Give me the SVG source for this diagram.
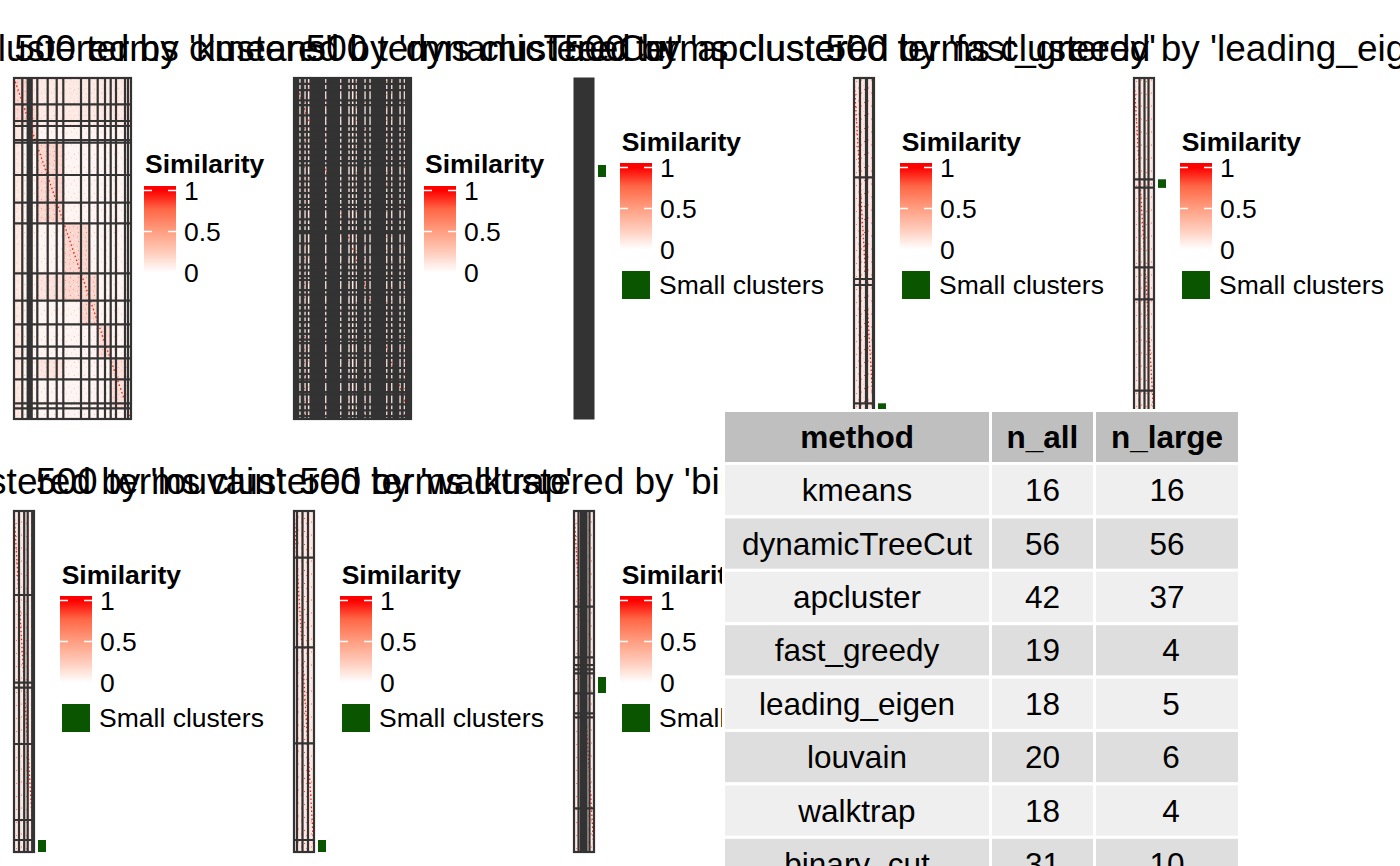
<svg xmlns="http://www.w3.org/2000/svg" width="1400" height="866" viewBox="0 0 1400 866">
<style>
.ttl{font-family:"Liberation Sans",Arial,sans-serif;font-size:37px;fill:#000;text-anchor:middle}
.lt{font-family:"Liberation Sans",Arial,sans-serif;font-size:26.5px;font-weight:bold;fill:#000}
.ll{font-family:"Liberation Sans",Arial,sans-serif;font-size:26.5px;fill:#000}
.grid{fill:none;stroke:#333;stroke-width:2.2}
.bd{fill:none;stroke:#333;stroke-width:2.2}
.diag{stroke:#F0200C;stroke-width:1.3;stroke-dasharray:1.5 2.5;fill:none}
.tick{stroke:#fff;stroke-width:1.6}
.sc{fill:#0A5600}
.tb{font-family:"Liberation Sans",Arial,sans-serif;font-size:31.5px;fill:#000;text-anchor:middle}
.tbh{font-weight:bold}
.hc{fill:#BFBFBF;stroke:#fff;stroke-width:3}
.c1{fill:#EFEFEF;stroke:#fff;stroke-width:3}
.c2{fill:#DEDEDE;stroke:#fff;stroke-width:3}
</style>
<defs>
<linearGradient id="grad" x1="0" y1="0" x2="0" y2="1">
<stop offset="0" stop-color="#FF0000"/>
<stop offset="0.05" stop-color="#FF0000"/>
<stop offset="0.255" stop-color="#FF6746"/>
<stop offset="0.5" stop-color="#FF9E81"/>
<stop offset="0.745" stop-color="#FFCFBF"/>
<stop offset="0.95" stop-color="#FFFFFF"/>
<stop offset="1" stop-color="#FFFFFF"/>
</linearGradient>
<pattern id="spk" width="10" height="13" patternUnits="userSpaceOnUse">
<rect width="10" height="13" fill="#FCE6E1"/>
<rect x="1" y="1" width="1" height="2" fill="#F4A99C"/>
<rect x="6" y="3" width="1" height="1" fill="#EE7C6A"/>
<rect x="3" y="7" width="1" height="1" fill="#F8C6BC"/>
<rect x="8" y="9" width="1" height="2" fill="#F5B1A5"/>
<rect x="4" y="11" width="1" height="1" fill="#EA4A35"/>
<rect x="0" y="5" width="1" height="1" fill="#FFFFFF"/>
<rect x="7" y="6" width="1" height="1" fill="#FFFFFF"/>
</pattern>
<pattern id="pk" width="8" height="9" patternUnits="userSpaceOnUse">
<rect width="8" height="9" fill="#FBD6CE"/>
<rect x="1" y="1" width="1" height="1" fill="#F4A193"/>
<rect x="5" y="2" width="1" height="2" fill="#F7BDB2"/>
<rect x="3" y="5" width="1" height="1" fill="#FFFFFF"/>
<rect x="6" y="7" width="1" height="1" fill="#F28D7D"/>
<rect x="0" y="7" width="1" height="1" fill="#FFF4F2"/>
</pattern>
</defs>

<g id="connectors"/>

<g id="panel-kmeans">
<text class="ttl" x="68.5" y="61">500 terms clustered by 'kmeans'</text>
<rect x="14" y="78" width="117" height="341" fill="#FFFBFA"/>
<rect x="14" y="78" width="117" height="341" fill="url(#spk)" opacity="0.35"/>
<g fill="url(#pk)">
<rect x="14" y="78" width="16.5" height="48"/>
<rect x="14" y="126" width="9" height="293" opacity="0.45"/>
<rect x="30.5" y="78" width="100.5" height="48" opacity="0.35"/>
<rect x="28.7" y="104" width="8" height="39"/>
<rect x="36.2" y="142.7" width="27.7" height="80.6"/>
<rect x="63.9" y="223.3" width="26.5" height="77.4"/>
<rect x="36.2" y="273.3" width="27.7" height="27.4" opacity="0.6"/>
<rect x="81" y="273.3" width="17.5" height="51"/>
<rect x="98.5" y="324.3" width="11.7" height="34" opacity="0.8"/>
<rect x="110.2" y="358.3" width="17.1" height="50" opacity="0.7"/>
<rect x="36.2" y="358.3" width="27.7" height="21" opacity="0.5"/>
</g>
<line class="diag" x1="14" y1="78" x2="131" y2="419"/>
<path class="grid" d="M22.3 78V419M27.7 78V419M29.7 78V419M31.7 78V419M37.3 78V419M47.7 78V419M56.7 78V419M63.3 78V419M81 78V419M89.3 78V419M97.7 78V419M105 78V419M110.7 78V419M116 78V419M125 78V419M128 78V419M14 104.3H131M14 121H131M14 126H131M14 140H131M14 142.7H131M14 175H131M14 202.7H131M14 223.3H131M14 273.3H131M14 300.7H131M14 324.3H131M14 346.7H131M14 358.3H131M14 379.3H131M14 403.3H131M14 408.3H131"/>
<rect class="bd" x="14" y="78" width="117" height="341"/>
<text class="lt" x="145" y="173">Similarity</text>
<rect x="144" y="186" width="32" height="91" fill="url(#grad)"/>
<path class="tick" d="M144 190.5h8M168 190.5h8M144 231.5h8M168 231.5h8M144 272.5h8M168 272.5h8"/>
<text class="ll" x="184" y="199.5">1</text>
<text class="ll" x="184" y="240.5">0.5</text>
<text class="ll" x="184" y="281.5">0</text>
</g>

<g id="panel-dynamicTreeCut">
<text class="ttl" x="348.5" y="61">500 terms clustered by 'dynamicTreeCut'</text>
<rect x="294" y="78" width="117" height="341" fill="url(#spk)"/>
<line class="diag" x1="294" y1="78" x2="411" y2="419"/>
<path class="grid" d="M296 78V419M298.2 78V419M301.7 78V419M303.3 78V419M306.8 78V419M310.5 78V419M312.5 78V419M314.5 78V419M316.5 78V419M318.5 78V419M320.5 78V419M322.5 78V419M324 78V419M327.5 78V419M329.5 78V419M331.5 78V419M333.5 78V419M335.5 78V419M337.5 78V419M339 78V419M342.5 78V419M344.5 78V419M346.5 78V419M347.2 78V419M350.8 78V419M354.6 78V419M358 78V419M360 78V419M362 78V419M363.3 78V419M366.8 78V419M368.3 78V419M371.8 78V419M373.8 78V419M375.8 78V419M377.8 78V419M379.8 78V419M381.8 78V419M383.8 78V419M385 78V419M388.5 78V419M390 78V419M393.5 78V419M395.5 78V419M397.5 78V419M398.3 78V419M401.8 78V419M402.6 78V419M406 78V419M408 78V419M410 78V419"/>
<path class="grid" d="M294 83.8H411M294 90.2H411M294 100.4H411M294 105.1H411M294 115.3H411M294 126.1H411M294 131.9H411M294 137.7H411M294 143.6H411M294 149.4H411M294 155.2H411M294 161.1H411M294 165.4H411M294 175.6H411M294 181.5H411M294 187.3H411M294 193.1H411M294 199H411M294 204.8H411M294 209.2H411M294 219.4H411M294 225.2H411M294 231H411M294 233.1H411M294 243.5H411M294 254.6H411M294 264.5H411M294 270.4H411M294 276.2H411M294 280H411M294 290.2H411M294 294.6H411M294 304.8H411M294 310.6H411M294 316.4H411M294 322.2H411M294 328.1H411M294 333.9H411M294 339.7H411M294 343.2H411M294 353.4H411M294 357.8H411M294 368H411M294 373.8H411M294 379.7H411M294 382H411M294 392.2H411M294 394.5H411M294 404.4H411M294 410.3H411M294 416.1H411"/>
<rect class="bd" x="294" y="78" width="117" height="341"/>
<text class="lt" x="425" y="173">Similarity</text>
<rect x="424" y="186" width="32" height="91" fill="url(#grad)"/>
<path class="tick" d="M424 190.5h8M448 190.5h8M424 231.5h8M448 231.5h8M424 272.5h8M448 272.5h8"/>
<text class="ll" x="464" y="199.5">1</text>
<text class="ll" x="464" y="240.5">0.5</text>
<text class="ll" x="464" y="281.5">0</text>
</g>

<g id="panel-apcluster">
<text class="ttl" x="580" y="61">500 terms clustered by 'apcluster'</text>
<rect x="574" y="78" width="20" height="341" fill="#333" stroke="#333" stroke-width="1"/>
<rect class="sc" x="598" y="165" width="8" height="12"/>
<text class="lt" x="621.7" y="151">Similarity</text>
<rect x="620" y="163" width="32" height="91" fill="url(#grad)"/>
<path class="tick" d="M620 167.5h8M644 167.5h8M620 208.5h8M644 208.5h8M620 249.5h8M644 249.5h8"/>
<text class="ll" x="660" y="176.5">1</text>
<text class="ll" x="660" y="217.5">0.5</text>
<text class="ll" x="660" y="258.5">0</text>
<rect class="sc" x="622" y="271" width="28" height="28"/>
<text class="ll" x="659" y="294">Small clusters</text>
</g>

<g id="panel-fast_greedy">
<text class="ttl" x="860" y="61">500 terms clustered by 'fast_greedy'</text>
<rect x="854" y="78" width="20" height="341" fill="url(#spk)"/>
<line class="diag" x1="854" y1="78" x2="874" y2="419"/>
<path class="grid" d="M860 78V419M866 78V419M867 78V419M873 78V419M854 177.3H874M854 279H874M854 285H874M854 403.3H874"/>
<rect class="bd" x="854" y="78" width="20" height="341"/>
<rect class="sc" x="878" y="403.3" width="8" height="15.7"/>
<text class="lt" x="901.7" y="151">Similarity</text>
<rect x="900" y="163" width="32" height="91" fill="url(#grad)"/>
<path class="tick" d="M900 167.5h8M924 167.5h8M900 208.5h8M924 208.5h8M900 249.5h8M924 249.5h8"/>
<text class="ll" x="940" y="176.5">1</text>
<text class="ll" x="940" y="217.5">0.5</text>
<text class="ll" x="940" y="258.5">0</text>
<rect class="sc" x="902" y="271" width="28" height="28"/>
<text class="ll" x="939" y="294">Small clusters</text>
</g>

<g id="panel-leading_eigen">
<text class="ttl" x="1140" y="61">500 terms clustered by 'leading_eigen'</text>
<rect x="1134" y="78" width="20" height="341" fill="url(#spk)"/>
<line class="diag" x1="1134" y1="78" x2="1154" y2="419"/>
<path class="grid" d="M1139.5 78V419M1144.5 78V419M1148.5 78V419M1134 179.3H1154M1134 187.7H1154M1134 267.3H1154M1134 299.3H1154M1134 390.7H1154"/>
<rect class="bd" x="1134" y="78" width="20" height="341"/>
<rect class="sc" x="1158" y="179.3" width="8" height="8.6"/>
<text class="lt" x="1181.7" y="151">Similarity</text>
<rect x="1180" y="163" width="32" height="91" fill="url(#grad)"/>
<path class="tick" d="M1180 167.5h8M1204 167.5h8M1180 208.5h8M1204 208.5h8M1180 249.5h8M1204 249.5h8"/>
<text class="ll" x="1220" y="176.5">1</text>
<text class="ll" x="1220" y="217.5">0.5</text>
<text class="ll" x="1220" y="258.5">0</text>
<rect class="sc" x="1182" y="271" width="28" height="28"/>
<text class="ll" x="1219" y="294">Small clusters</text>
</g>

<g id="panel-louvain">
<text class="ttl" x="24" y="494">500 terms clustered by 'louvain'</text>
<rect x="14" y="511" width="20" height="341" fill="url(#spk)"/>
<line class="diag" x1="14" y1="511" x2="34" y2="852"/>
<path class="grid" d="M19 511V852M24.2 511V852M27.7 511V852M32.2 511V852M14 595H34M14 682.7H34M14 687.7H34M14 744H34M14 820H34M14 840H34"/>
<rect class="bd" x="14" y="511" width="20" height="341"/>
<rect class="sc" x="38" y="840" width="8" height="12"/>
<text class="lt" x="61.7" y="584">Similarity</text>
<rect x="60" y="596" width="32" height="91" fill="url(#grad)"/>
<path class="tick" d="M60 600.5h8M84 600.5h8M60 641.5h8M84 641.5h8M60 682.5h8M84 682.5h8"/>
<text class="ll" x="100" y="609.5">1</text>
<text class="ll" x="100" y="650.5">0.5</text>
<text class="ll" x="100" y="691.5">0</text>
<rect class="sc" x="62" y="704" width="28" height="28"/>
<text class="ll" x="99" y="727">Small clusters</text>
</g>

<g id="panel-walktrap">
<text class="ttl" x="304" y="494">500 terms clustered by 'walktrap'</text>
<rect x="294" y="511" width="20" height="341" fill="url(#spk)"/>
<line class="diag" x1="294" y1="511" x2="314" y2="852"/>
<path class="grid" d="M297 511V852M302.5 511V852M308 511V852M294 557.7H314M294 647.3H314M294 743.3H314M294 840H314"/>
<rect class="bd" x="294" y="511" width="20" height="341"/>
<rect class="sc" x="318" y="840" width="8" height="12"/>
<text class="lt" x="341.7" y="584">Similarity</text>
<rect x="340" y="596" width="32" height="91" fill="url(#grad)"/>
<path class="tick" d="M340 600.5h8M364 600.5h8M340 641.5h8M364 641.5h8M340 682.5h8M364 682.5h8"/>
<text class="ll" x="380" y="609.5">1</text>
<text class="ll" x="380" y="650.5">0.5</text>
<text class="ll" x="380" y="691.5">0</text>
<rect class="sc" x="342" y="704" width="28" height="28"/>
<text class="ll" x="379" y="727">Small clusters</text>
</g>

<g id="panel-binary_cut">
<text class="ttl" x="584" y="494">500 terms clustered by 'binary_cut'</text>
<rect x="574" y="511" width="20" height="341" fill="url(#spk)"/>
<line class="diag" x1="574" y1="511" x2="594" y2="852"/>
<path class="grid" d="M578.5 511V852M581 511V852M583 511V852M584.5 511V852M586.5 511V852M589.5 511V852M574 606.7H594M574 657.3H594M574 665H594M574 669.3H594M574 673.3H594M574 693.3H594M574 713.3H594M574 717.3H594M574 808.3H594"/>
<rect class="bd" x="574" y="511" width="20" height="341"/>
<rect class="sc" x="598" y="677" width="8" height="16"/>
<text class="lt" x="621.7" y="584">Similarity</text>
<rect x="620" y="596" width="32" height="91" fill="url(#grad)"/>
<path class="tick" d="M620 600.5h8M644 600.5h8M620 641.5h8M644 641.5h8M620 682.5h8M644 682.5h8"/>
<text class="ll" x="660" y="609.5">1</text>
<text class="ll" x="660" y="650.5">0.5</text>
<text class="ll" x="660" y="691.5">0</text>
<rect class="sc" x="622" y="704" width="28" height="28"/>
<text class="ll" x="659" y="727">Small clusters</text>
</g>

<g id="table">
<rect class="hc" x="723.5" y="410.5" width="267" height="53"/>
<rect class="hc" x="990.5" y="410.5" width="104" height="53"/>
<rect class="hc" x="1094.5" y="410.5" width="145" height="53"/>
<g>
<rect class="c1" x="723.5" y="463.5" width="267" height="53.4"/><rect class="c1" x="990.5" y="463.5" width="104" height="53.4"/><rect class="c1" x="1094.5" y="463.5" width="145" height="53.4"/>
<rect class="c2" x="723.5" y="516.9" width="267" height="53.4"/><rect class="c2" x="990.5" y="516.9" width="104" height="53.4"/><rect class="c2" x="1094.5" y="516.9" width="145" height="53.4"/>
<rect class="c1" x="723.5" y="570.3" width="267" height="53.4"/><rect class="c1" x="990.5" y="570.3" width="104" height="53.4"/><rect class="c1" x="1094.5" y="570.3" width="145" height="53.4"/>
<rect class="c2" x="723.5" y="623.7" width="267" height="53.4"/><rect class="c2" x="990.5" y="623.7" width="104" height="53.4"/><rect class="c2" x="1094.5" y="623.7" width="145" height="53.4"/>
<rect class="c1" x="723.5" y="677.1" width="267" height="53.4"/><rect class="c1" x="990.5" y="677.1" width="104" height="53.4"/><rect class="c1" x="1094.5" y="677.1" width="145" height="53.4"/>
<rect class="c2" x="723.5" y="730.5" width="267" height="53.4"/><rect class="c2" x="990.5" y="730.5" width="104" height="53.4"/><rect class="c2" x="1094.5" y="730.5" width="145" height="53.4"/>
<rect class="c1" x="723.5" y="783.9" width="267" height="53.4"/><rect class="c1" x="990.5" y="783.9" width="104" height="53.4"/><rect class="c1" x="1094.5" y="783.9" width="145" height="53.4"/>
<rect class="c2" x="723.5" y="837.3" width="267" height="53.4"/><rect class="c2" x="990.5" y="837.3" width="104" height="53.4"/><rect class="c2" x="1094.5" y="837.3" width="145" height="53.4"/>
</g>
<text class="tb tbh" x="857" y="448">method</text>
<text class="tb tbh" x="1042.5" y="448">n_all</text>
<text class="tb tbh" x="1167" y="448">n_large</text>
<text class="tb" x="857" y="501.2">kmeans</text><text class="tb" x="1042.5" y="501.2">16</text><text class="tb" x="1167" y="501.2">16</text>
<text class="tb" x="857" y="554.6">dynamicTreeCut</text><text class="tb" x="1042.5" y="554.6">56</text><text class="tb" x="1167" y="554.6">56</text>
<text class="tb" x="857" y="608">apcluster</text><text class="tb" x="1042.5" y="608">42</text><text class="tb" x="1167" y="608">37</text>
<text class="tb" x="857" y="661.4">fast_greedy</text><text class="tb" x="1042.5" y="661.4">19</text><text class="tb" x="1171" y="661.4">4</text>
<text class="tb" x="857" y="714.8">leading_eigen</text><text class="tb" x="1042.5" y="714.8">18</text><text class="tb" x="1171" y="714.8">5</text>
<text class="tb" x="857" y="768.2">louvain</text><text class="tb" x="1042.5" y="768.2">20</text><text class="tb" x="1171" y="768.2">6</text>
<text class="tb" x="857" y="821.6">walktrap</text><text class="tb" x="1042.5" y="821.6">18</text><text class="tb" x="1171" y="821.6">4</text>
<text class="tb" x="857" y="875">binary_cut</text><text class="tb" x="1042.5" y="875">31</text><text class="tb" x="1167" y="875">10</text>
</g>
</svg>
